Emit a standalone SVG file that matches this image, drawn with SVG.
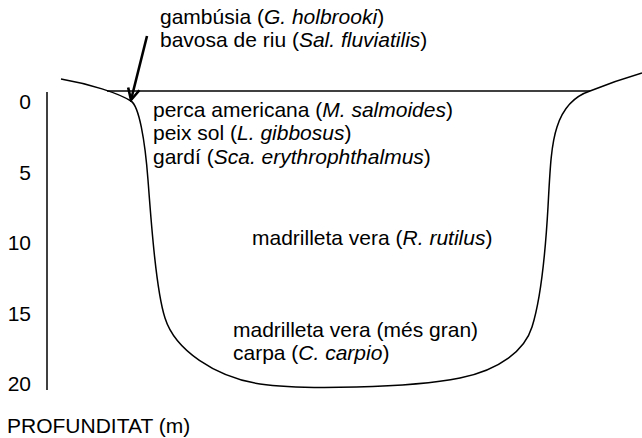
<svg xmlns="http://www.w3.org/2000/svg" width="642" height="438" viewBox="0 0 642 438">
  <style>
    text { font-family: "Liberation Sans", Arial, sans-serif; font-size: 21px; fill: #000; }
    .it { font-style: italic; }
    .tick { text-anchor: end; }
    .line { fill: none; stroke: #000; stroke-width: 1.5; }
    .arrow { fill: none; stroke: #000; stroke-width: 2.6; }
  </style>
  <defs>
    <marker id="head" markerUnits="userSpaceOnUse" viewBox="-14 -8 16 16" refX="0" refY="0" markerWidth="16" markerHeight="16" orient="auto">
      <path d="M-11.5,-5.8 L0,0 L-11.5,5.8" fill="none" stroke="#000" stroke-width="2.6" stroke-linejoin="miter"/>
    </marker>
  </defs>
  <rect width="642" height="438" fill="#fff"/>

  <g id="depth-axis">
    <line class="line" x1="47" y1="92" x2="47" y2="390"/>
    <text class="tick" x="31" y="108.5">0</text>
    <text class="tick" x="31" y="179.5">5</text>
    <text class="tick" x="31" y="250">10</text>
    <text class="tick" x="31" y="320.5">15</text>
    <text class="tick" x="31" y="390.5">20</text>
    <text x="7" y="433">PROFUNDITAT (m)</text>
  </g>

  <g id="lake">
    <line class="line" x1="107" y1="91" x2="590" y2="91"/>
    <path class="line" d="M61,79 C90,84 118,93 131,101 C139,106 145,140 148,180 C151,220 156,290 165,318 C175,350 215,377 260,384 C300,390 410,388 460,378 C500,370 525,350 532,327 C539,305 545,260 548,207 C550,170 551,145 557,127 C563,108 575,96 590,91 C605,85 625,78 642,73"/>
  </g>

  <g id="surface-species">
    <text x="160" y="24">gambúsia (<tspan class="it">G. holbrooki</tspan>)</text>
    <text x="160" y="47">bavosa de riu (<tspan class="it">Sal. fluviatilis</tspan>)</text>
  </g>

  <g id="shallow-species">
    <text x="153" y="116.5">perca americana (<tspan class="it">M. salmoides</tspan>)</text>
    <text x="153" y="140">peix sol (<tspan class="it">L. gibbosus</tspan>)</text>
    <text x="153" y="163.5">gardí (<tspan class="it">Sca. erythrophthalmus</tspan>)</text>
  </g>

  <g id="mid-species">
    <text x="252" y="245">madrilleta vera (<tspan class="it">R. rutilus</tspan>)</text>
  </g>

  <g id="deep-species">
    <text x="233" y="337">madrilleta vera (més gran)</text>
    <text x="233" y="360">carpa (<tspan class="it">C. carpio</tspan>)</text>
  </g>

  <g id="connectors">
    <line class="arrow" x1="147" y1="36" x2="131" y2="100" marker-end="url(#head)"/>
  </g>
</svg>
